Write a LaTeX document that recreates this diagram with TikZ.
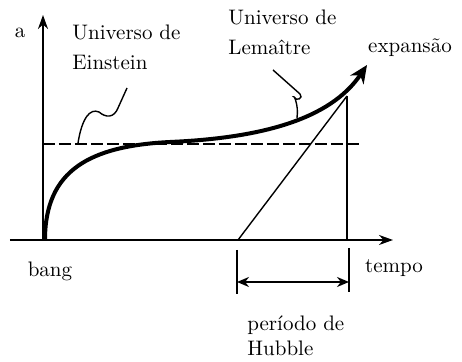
\documentclass[tikz,border=0pt]{standalone}
\usepackage{tikz}
\usetikzlibrary{arrows.meta,positioning,calc}

\begin{document}
\begin{tikzpicture}[x=0.5pt,y=-0.5pt,
    lbl/.style={font=\fontsize{10.5}{15}\selectfont,align=left,inner sep=0pt},
    axis/.style={line width=1pt,-{Stealth[length=7pt,width=5pt]}},
    thin/.style={line width=0.7pt}]
      \useasboundingbox (0,0) rectangle (462,362);
      % points of the picture
      \coordinate (o) at (43,240);
      \coordinate (ytop) at (43,15);
      \coordinate (xend) at (393,240);
      \coordinate (start) at (45,240);
      \coordinate (mid) at (170,142);
      \coordinate (tip) at (367,65);
      \coordinate (tp) at (347,96);
      \coordinate (tz) at (238,240);
      \coordinate (tv) at (347,240);
      \coordinate (dl) at (43,144);
      \coordinate (dr) at (361,144);
      % axes
      \draw[axis] (o) -- (ytop);
      \draw[axis] (10,240) -- (xend);
      % static universe
      \draw[thin,dash pattern=on 6pt off 2pt] (dl) -- (dr);
      % scale factor curve
      \draw[line width=2pt,-{Stealth[length=9pt,width=8pt]}] (start)
        .. controls (45,170) and (90,146) .. (mid)
        .. controls (260,138) and (330,120) .. (tip);
      % tangent and vertical
      \draw[thin] (tz) -- (tp);
      \draw[thin] (tp) -- (tv);
      % Hubble period
      \coordinate (hl) at (237,250);
      \coordinate (hr) at (349,248);
      \draw[thin] (hl) -- ++(0,44);
      \draw[thin] (hr) -- ++(0,44);
      \draw[line width=1pt,{Stealth[length=6pt,width=5pt]}-{Stealth[length=6pt,width=5pt]}] (237,282) -- (349,282);
      % labels
      \node[lbl] (a) at (20,33) {a};
      \node[lbl,anchor=west] (ein) at (72,47) {Universo de\\Einstein};
      \node[lbl,anchor=west] (lem) at (228,32) {Universo de\\Lema\^{\i}tre};
      \node[lbl] (exp) at (410,48) {expans\~ao};
      \node[lbl] (bang) at (50,271) {bang};
      \node[lbl] (tempo) at (394,268) {tempo};
      \node[lbl,anchor=west,font=\fontsize{10.5}{12.5}\selectfont] (hub) at (247,336) {per\'{\i}odo de\\Hubble};
      % pointers
      \coordinate (ep) at (78,143);
      \coordinate (lp) at (297,118);
      \draw[thin] (ep) .. controls (82,118) and (90,108) .. (99,112)
        .. controls (106,118) and (114,118) .. (118,108) -- (127,88);
      \draw[thin] (273,70) -- (300,94) .. controls (304,98) and (296,102) .. (294,97)
        .. controls (293,94) and (299,104) .. (lp);
\end{tikzpicture}
\end{document}
